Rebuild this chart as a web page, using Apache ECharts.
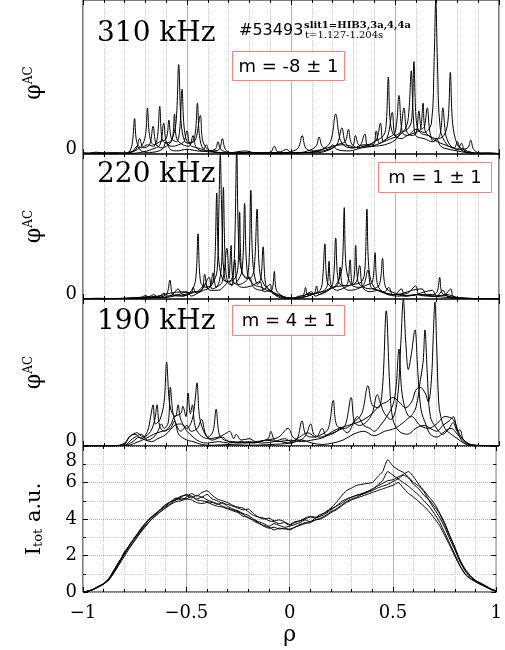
<!DOCTYPE html>
<html>
<head>
<meta charset="utf-8">
<script src="https://cdn.jsdelivr.net/npm/echarts@6/dist/echarts.min.js"></script>
<style>html,body{margin:0;padding:0;background:#fff;}#c{width:505px;height:650px;}</style>
</head>
<body>
<div id="c"></div>
<script>
// ---------------- DATA ----------------
const xTicks = [-1, -0.5, 0, 0.5, 1];
const xTickLabels = ['\u22121', '\u22120.5', '0', '0.5', '1'];
const yTicks4 = [0, 2, 4, 6, 8];
const panelFreqs = ['310 kHz', '220 kHz', '190 kHz'];
const panelModes = ['m = -8 \u00b1 1', 'm = 1 \u00b1 1', 'm = 4 \u00b1 1'];

// Panel 1 (310 kHz), phi^AC, relative units 0..100
const P1_S1 = [[-1,0.3],[-0.95,0.8],[-0.9,0.2],[-0.85,0.6],[-0.8,0.4],[-0.775,2],[-0.762,8],[-0.752,23],[-0.742,8],[-0.72,4],[-0.69,6],[-0.66,5],[-0.643,10],[-0.631,31],[-0.62,10],[-0.6,7],[-0.575,9],[-0.553,20],[-0.54,58],[-0.528,20],[-0.51,8],[-0.485,7],[-0.462,12],[-0.45,33],[-0.44,12],[-0.42,3],[-0.38,2],[-0.345,3],[-0.33,10],[-0.315,3],[-0.28,0.5],[-0.2,0.8],[-0.1,0.5],[0,0.8],[0.08,1],[0.15,3],[0.19,8],[0.215,26],[0.235,10],[0.26,5],[0.3,4],[0.35,6],[0.395,6],[0.41,15],[0.425,7],[0.46,10],[0.5,14],[0.519,38],[0.535,14],[0.56,12],[0.6,16],[0.64,14],[0.675,20],[0.688,60],[0.696,100],[0.704,60],[0.718,16],[0.75,6],[0.785,4],[0.8,8],[0.815,3],[0.85,1],[0.9,0.3],[0.95,0.5],[1,0.2]];
const P1_S2 = [[-1,0.6],[-0.93,0.3],[-0.87,0.8],[-0.8,0.3],[-0.76,1.5],[-0.72,5],[-0.7,12],[-0.69,30],[-0.68,12],[-0.66,6],[-0.63,8],[-0.6,10],[-0.587,22],[-0.575,10],[-0.55,8],[-0.535,16],[-0.524,42],[-0.512,15],[-0.49,7],[-0.46,9],[-0.436,25],[-0.425,9],[-0.4,3],[-0.35,1],[-0.3,0.5],[-0.2,1.2],[-0.15,0.5],[-0.1,1],[-0.05,0.5],[0,1.5],[0.035,4],[0.054,12],[0.07,4],[0.1,2],[0.15,3],[0.2,5],[0.25,6],[0.295,5],[0.31,12],[0.325,6],[0.36,5],[0.4,8],[0.445,12],[0.458,20],[0.468,50],[0.478,20],[0.5,12],[0.53,14],[0.56,16],[0.58,22],[0.591,60],[0.602,22],[0.62,14],[0.66,12],[0.7,10],[0.735,12],[0.755,22],[0.766,53],[0.777,20],[0.8,6],[0.83,3],[0.87,1],[0.92,0.3],[1,0.3]];
const P1_S3 = [[-1,0.2],[-0.9,0.5],[-0.82,0.3],[-0.78,1],[-0.745,3],[-0.728,10],[-0.71,4],[-0.68,6],[-0.663,18],[-0.648,6],[-0.62,4],[-0.59,6],[-0.57,10],[-0.56,26],[-0.55,10],[-0.52,6],[-0.49,5],[-0.471,12],[-0.455,4],[-0.42,2],[-0.365,3],[-0.351,8],[-0.338,3],[-0.3,1],[-0.25,0.4],[-0.18,1],[-0.1,0.3],[-0.03,0.8],[0.02,0.5],[0.08,2],[0.12,5],[0.135,11],[0.15,5],[0.18,3],[0.22,6],[0.26,8],[0.276,16],[0.29,7],[0.32,4],[0.37,6],[0.41,9],[0.43,20],[0.445,8],[0.48,10],[0.52,12],[0.555,18],[0.568,30],[0.578,54],[0.588,25],[0.6,12],[0.64,10],[0.68,8],[0.715,12],[0.73,30],[0.745,12],[0.77,5],[0.81,3],[0.85,4],[0.864,9],[0.878,3],[0.91,0.5],[0.95,0.3],[1,0.2]];
const P1_S4 = [[-1,1],[-0.97,0.3],[-0.94,1.2],[-0.88,0.5],[-0.83,0.8],[-0.78,0.4],[-0.72,1],[-0.67,3],[-0.63,6],[-0.612,20],[-0.598,7],[-0.57,5],[-0.54,6],[-0.515,8],[-0.5,15],[-0.485,6],[-0.45,4],[-0.42,3],[-0.407,6],[-0.39,2],[-0.3,0.8],[-0.22,2],[-0.17,0.6],[-0.1,1],[-0.08,5],[-0.065,1.5],[-0.02,0.6],[0.05,1],[0.12,0.8],[0.17,2],[0.22,6],[0.245,17],[0.26,8],[0.29,4],[0.33,5],[0.355,13],[0.37,5],[0.41,6],[0.46,10],[0.487,27],[0.5,12],[0.53,10],[0.56,12],[0.6,14],[0.622,16],[0.635,33],[0.645,15],[0.68,10],[0.72,7],[0.76,5],[0.8,3],[0.82,7],[0.835,2],[0.88,0.5],[0.94,0.8],[1,0.3]];
const P1_S5 = [[-1,0.2],[-0.9,0.3],[-0.8,0.6],[-0.76,2],[-0.74,5],[-0.72,2],[-0.68,1],[-0.62,3],[-0.6,8],[-0.58,3],[-0.55,2],[-0.5,3],[-0.45,2],[-0.4,1.5],[-0.3,0.5],[-0.22,1],[-0.12,0.5],[-0.05,1.5],[-0.02,3],[0,1],[0.05,0.8],[0.12,1.5],[0.18,3],[0.2,6],[0.22,3],[0.28,2],[0.34,4],[0.4,5],[0.45,6],[0.5,9],[0.525,14],[0.543,30],[0.558,14],[0.585,12],[0.603,14],[0.615,28],[0.628,16],[0.642,18],[0.655,30],[0.668,14],[0.685,8],[0.7,10],[0.72,5],[0.76,3],[0.8,2],[0.84,1],[0.9,0.4],[1,0.2]];

// Panel 2 (220 kHz)
const P2_S1 = [[-1,0.2],[-0.85,0.3],[-0.75,0.5],[-0.66,1],[-0.6,3],[-0.582,13],[-0.568,3],[-0.53,2],[-0.49,4],[-0.46,12],[-0.447,45],[-0.435,12],[-0.41,8],[-0.38,10],[-0.355,20],[-0.347,60],[-0.34,100],[-0.333,60],[-0.32,15],[-0.29,10],[-0.26,12],[-0.235,20],[-0.223,66],[-0.21,18],[-0.18,10],[-0.14,8],[-0.1,5],[-0.088,8],[-0.08,19],[-0.07,6],[-0.04,2],[0,0.5],[0.05,1],[0.1,3],[0.14,6],[0.152,14],[0.163,38],[0.174,12],[0.2,8],[0.232,14],[0.247,24],[0.256,63],[0.265,22],[0.29,10],[0.33,8],[0.37,10],[0.392,12],[0.404,32],[0.416,10],[0.45,4],[0.52,2],[0.6,3],[0.68,3],[0.703,5],[0.715,15],[0.727,4],[0.77,1.5],[0.85,0.5],[0.95,0.2],[1,0.1]];
const P2_S2 = [[-1,0.3],[-0.9,0.2],[-0.8,0.4],[-0.7,0.8],[-0.62,1],[-0.57,3],[-0.543,7],[-0.52,3],[-0.47,5],[-0.43,6],[-0.415,17],[-0.4,7],[-0.375,12],[-0.365,30],[-0.357,73],[-0.349,30],[-0.33,14],[-0.3,12],[-0.28,16],[-0.27,40],[-0.261,104],[-0.252,40],[-0.235,18],[-0.2,14],[-0.178,20],[-0.163,62],[-0.15,18],[-0.12,8],[-0.08,4],[-0.04,1],[0,0.5],[0.04,2],[0.06,3],[0.07,8],[0.08,3],[0.12,4],[0.17,6],[0.2,10],[0.215,42],[0.228,12],[0.26,9],[0.3,10],[0.34,12],[0.355,20],[0.365,62],[0.375,20],[0.4,8],[0.45,4],[0.5,3],[0.56,4],[0.6,9],[0.615,3],[0.66,2],[0.72,1.5],[0.8,0.5],[0.9,0.2],[1,0.1]];
const P2_S3 = [[-1,0.1],[-0.9,0.3],[-0.78,0.6],[-0.7,1.5],[-0.64,2],[-0.58,4],[-0.52,5],[-0.48,4],[-0.47,8],[-0.455,4],[-0.42,6],[-0.39,8],[-0.375,18],[-0.36,8],[-0.345,12],[-0.333,26],[-0.325,77],[-0.316,26],[-0.3,12],[-0.27,14],[-0.255,22],[-0.247,60],[-0.238,20],[-0.215,14],[-0.202,25],[-0.193,75],[-0.183,24],[-0.16,10],[-0.145,14],[-0.134,36],[-0.122,10],[-0.1,6],[-0.06,3],[-0.02,1],[0.03,0.5],[0.08,2],[0.12,4],[0.16,6],[0.175,10],[0.183,26],[0.192,10],[0.22,6],[0.26,8],[0.3,12],[0.311,37],[0.322,12],[0.35,8],[0.39,7],[0.425,10],[0.44,28],[0.455,8],[0.5,4],[0.55,2],[0.62,3],[0.68,2],[0.74,3],[0.768,7],[0.78,2],[0.83,0.5],[0.9,0.3],[1,0.1]];
const P2_S4 = [[-1,0.2],[-0.92,0.5],[-0.84,0.2],[-0.76,0.6],[-0.7,0.5],[-0.66,3],[-0.64,1],[-0.58,1.5],[-0.54,3],[-0.5,5],[-0.48,2],[-0.44,5],[-0.42,8],[-0.394,15],[-0.38,7],[-0.36,8],[-0.33,12],[-0.308,35],[-0.298,14],[-0.288,37],[-0.278,12],[-0.25,10],[-0.22,12],[-0.2,15],[-0.18,8],[-0.14,6],[-0.1,10],[-0.09,4],[-0.05,2],[0,0.3],[0.05,1],[0.09,4],[0.11,3],[0.123,9],[0.135,3],[0.17,5],[0.2,8],[0.24,9],[0.27,10],[0.284,27],[0.296,10],[0.315,12],[0.33,23],[0.345,8],[0.38,5],[0.42,6],[0.46,4],[0.5,3],[0.53,7],[0.55,2],[0.6,3],[0.645,5],[0.68,6],[0.7,2],[0.75,3],[0.8,1],[0.88,0.3],[1,0.2]];
const P2_S5 = [[-1,0.1],[-0.95,0.3],[-0.88,0.1],[-0.8,0.3],[-0.72,1],[-0.7,2.5],[-0.68,1],[-0.63,2],[-0.61,4],[-0.59,2],[-0.55,3],[-0.52,2],[-0.48,4],[-0.45,5],[-0.41,10],[-0.39,6],[-0.35,6],[-0.32,9],[-0.3,12],[-0.285,9],[-0.27,27],[-0.258,10],[-0.23,8],[-0.19,9],[-0.15,12],[-0.13,5],[-0.1,6],[-0.07,2],[-0.03,0.5],[0.03,1],[0.07,3],[0.1,5],[0.115,2],[0.15,4],[0.19,7],[0.225,10],[0.236,22],[0.248,9],[0.28,6],[0.32,7],[0.35,10],[0.37,20],[0.385,8],[0.42,6],[0.45,5],[0.47,8],[0.49,3],[0.54,4],[0.58,6],[0.63,7],[0.65,3],[0.7,2],[0.73,6],[0.75,2],[0.8,0.5],[0.9,0.2],[1,0.1]];

// Panel 3 (190 kHz)
const P3_S1 = [[-1,0.1],[-0.85,0.2],[-0.8,1],[-0.78,6],[-0.75,8],[-0.72,5],[-0.69,10],[-0.675,20],[-0.663,28],[-0.652,15],[-0.63,18],[-0.61,30],[-0.598,57],[-0.585,30],[-0.57,22],[-0.555,20],[-0.543,28],[-0.53,18],[-0.5,12],[-0.475,18],[-0.462,30],[-0.452,43],[-0.44,20],[-0.42,10],[-0.4,6],[-0.375,10],[-0.36,25],[-0.345,8],[-0.32,4],[-0.28,3],[-0.22,2],[-0.15,3],[-0.11,5],[-0.097,10],[-0.08,4],[-0.05,3],[0,2],[0.03,5],[0.053,17],[0.07,8],[0.1,6],[0.15,8],[0.18,12],[0.203,31],[0.22,14],[0.26,12],[0.3,16],[0.34,22],[0.37,41],[0.39,28],[0.42,26],[0.44,40],[0.458,92],[0.475,40],[0.49,18],[0.52,10],[0.56,8],[0.6,12],[0.64,14],[0.67,12],[0.7,10],[0.73,14],[0.76,17],[0.78,20],[0.8,10],[0.82,4],[0.85,1],[0.9,0.3],[1,0.1]];
const P3_S2 = [[-1,0.2],[-0.85,0.1],[-0.8,2],[-0.77,7],[-0.74,9],[-0.71,6],[-0.675,10],[-0.655,18],[-0.644,28],[-0.632,14],[-0.61,10],[-0.58,14],[-0.56,20],[-0.53,22],[-0.52,27],[-0.505,20],[-0.495,36],[-0.484,22],[-0.474,28],[-0.462,14],[-0.44,8],[-0.4,5],[-0.35,6],[-0.32,8],[-0.295,10],[-0.275,5],[-0.263,8],[-0.24,4],[-0.2,5],[-0.17,3],[-0.12,4],[-0.06,6],[-0.014,12],[0.01,6],[0.04,4],[0.07,7],[0.095,15],[0.11,8],[0.14,6],[0.18,8],[0.22,10],[0.26,14],[0.289,33],[0.305,16],[0.33,14],[0.36,16],[0.39,22],[0.415,35],[0.43,29],[0.45,22],[0.48,18],[0.51,30],[0.528,70],[0.54,100],[0.552,70],[0.564,52],[0.578,62],[0.596,79],[0.61,50],[0.625,25],[0.65,14],[0.67,8],[0.7,6],[0.74,10],[0.77,12],[0.8,8],[0.83,4],[0.86,1],[0.9,0.2],[1,0.1]];
const P3_S3 = [[-1,0.1],[-0.9,0.2],[-0.8,0.5],[-0.77,4],[-0.75,6],[-0.72,8],[-0.69,4],[-0.66,6],[-0.64,10],[-0.623,15],[-0.61,12],[-0.59,16],[-0.58,40],[-0.568,23],[-0.55,14],[-0.53,10],[-0.5,14],[-0.48,10],[-0.45,12],[-0.43,18],[-0.41,8],[-0.38,4],[-0.33,6],[-0.3,3],[-0.25,2],[-0.2,3],[-0.14,2],[-0.08,3],[-0.03,5],[0,3],[0.04,6],[0.08,9],[0.12,6],[0.15,12],[0.17,7],[0.21,9],[0.24,12],[0.27,9],[0.32,20],[0.35,14],[0.38,12],[0.4,10],[0.43,14],[0.46,20],[0.49,28],[0.505,40],[0.519,66],[0.532,38],[0.55,25],[0.57,20],[0.6,26],[0.622,45],[0.635,57],[0.644,79],[0.655,50],[0.67,20],[0.7,12],[0.73,8],[0.76,12],[0.78,16],[0.8,10],[0.812,11],[0.83,4],[0.86,1],[1,0.1]];
const P3_S4 = [[-1,0.1],[-0.9,0.1],[-0.8,0.3],[-0.76,3],[-0.73,6],[-0.7,4],[-0.67,3],[-0.64,5],[-0.6,8],[-0.56,14],[-0.53,15],[-0.5,10],[-0.47,6],[-0.44,3],[-0.4,2],[-0.35,3],[-0.3,2],[-0.24,3],[-0.18,2],[-0.12,4],[-0.06,3],[0,4],[0.05,3],[0.1,4],[0.16,6],[0.2,10],[0.25,13],[0.3,15],[0.35,18],[0.39,22],[0.43,28],[0.46,30],[0.49,33],[0.52,30],[0.55,26],[0.58,30],[0.6,38],[0.62,40],[0.645,36],[0.66,30],[0.675,45],[0.684,75],[0.692,98],[0.7,70],[0.71,30],[0.72,20],[0.74,12],[0.77,8],[0.8,5],[0.83,2],[0.86,0.5],[1,0.1]];
const P3_S5 = [[-1,0.1],[-0.85,0.2],[-0.78,0.5],[-0.75,2],[-0.7,5],[-0.66,8],[-0.62,10],[-0.58,12],[-0.56,17],[-0.54,8],[-0.5,4],[-0.47,3],[-0.43,1],[-0.38,0.5],[-0.3,1],[-0.2,0.5],[-0.1,1],[0,2],[0.05,4],[0.1,2],[0.15,1],[0.2,2],[0.25,4],[0.3,8],[0.35,10],[0.4,7],[0.45,10],[0.5,12],[0.54,16],[0.58,20],[0.62,14],[0.66,12],[0.7,15],[0.74,20],[0.78,18],[0.81,8],[0.84,3],[0.88,0.5],[1,0.1]];

// Panel 4: I_tot (a.u.) on a common rho grid
const rho4 = [-1,-0.975,-0.95,-0.925,-0.9,-0.875,-0.85,-0.825,-0.8,-0.775,-0.75,-0.725,-0.7,-0.675,-0.65,-0.625,-0.6,-0.575,-0.55,-0.525,-0.5,-0.475,-0.45,-0.425,-0.4,-0.375,-0.35,-0.325,-0.3,-0.275,-0.25,-0.225,-0.2,-0.175,-0.15,-0.125,-0.1,-0.075,-0.05,-0.025,0,0.025,0.05,0.075,0.1,0.125,0.15,0.175,0.2,0.225,0.25,0.275,0.3,0.325,0.35,0.375,0.4,0.425,0.45,0.475,0.5,0.525,0.55,0.575,0.6,0.625,0.65,0.675,0.7,0.725,0.75,0.775,0.8,0.825,0.85,0.875,0.9,0.925,0.95,0.975,1];
const I_A = [0.00,0.05,0.15,0.32,0.45,0.72,1.20,1.62,2.05,2.55,2.95,3.35,3.70,4.00,4.25,4.50,4.75,4.95,5.10,5.25,5.30,5.15,5.30,5.20,5.35,5.10,5.00,4.85,4.80,4.70,4.60,4.50,4.55,4.30,4.10,4.00,4.05,3.90,3.95,3.85,3.70,3.85,3.90,4.00,4.10,4.05,4.20,4.40,4.60,4.90,5.25,5.55,5.70,5.85,5.90,5.95,6.00,6.30,6.60,7.25,6.90,6.70,6.55,6.30,6.00,5.80,5.50,5.00,4.55,4.10,3.55,2.90,2.30,1.65,1.15,0.82,0.60,0.45,0.30,0.15,0.05];
const I_B = [0.00,0.04,0.14,0.28,0.44,0.68,1.10,1.55,2.15,2.45,2.85,3.25,3.60,3.90,4.20,4.40,4.65,4.85,5.05,5.15,5.10,5.25,5.05,5.00,4.95,4.90,4.85,4.70,4.60,4.50,4.40,4.25,4.05,3.95,3.80,3.60,3.50,3.55,3.45,3.50,3.40,3.55,3.70,3.80,3.85,3.95,4.05,4.20,4.40,4.55,4.75,4.95,5.10,5.20,5.35,5.50,5.60,5.85,6.10,6.60,6.40,6.20,6.00,5.80,5.55,5.30,5.00,4.70,4.30,3.85,3.25,2.65,2.05,1.45,1.00,0.75,0.58,0.42,0.28,0.14,0.04];
const I_C = [0.00,0.06,0.16,0.30,0.46,0.75,1.20,1.70,2.05,2.60,2.95,3.40,3.75,4.05,4.25,4.55,4.80,4.95,5.05,5.20,5.35,5.25,5.10,5.20,5.05,4.95,4.80,4.90,4.70,4.55,4.45,4.30,4.20,4.00,3.85,3.75,3.60,3.75,3.65,3.55,3.60,3.70,3.80,3.95,3.85,4.05,4.15,4.30,4.50,4.70,4.85,5.05,5.20,5.30,5.40,5.50,5.65,5.80,5.95,6.10,6.15,6.30,6.45,6.60,6.30,5.90,5.55,5.20,4.85,4.35,3.80,3.10,2.45,1.70,1.20,0.85,0.62,0.48,0.32,0.16,0.06];
const I_D = [0.00,0.05,0.13,0.27,0.43,0.65,1.05,1.50,1.95,2.40,2.80,3.20,3.55,3.90,4.15,4.40,4.60,4.80,4.95,5.00,5.10,5.05,4.90,4.85,4.90,4.80,4.70,4.65,4.55,4.45,4.35,4.15,4.10,3.90,3.75,3.65,3.55,3.40,3.50,3.45,3.45,3.55,3.65,3.75,3.80,3.95,4.00,4.15,4.35,4.50,4.70,4.90,5.05,5.15,5.25,5.35,5.45,5.55,5.65,5.75,5.85,6.00,5.70,5.40,5.20,4.95,4.70,4.40,4.05,3.65,3.10,2.55,1.95,1.40,0.95,0.72,0.55,0.40,0.27,0.13,0.04];
const I_E = [0.00,0.05,0.16,0.31,0.46,0.70,1.15,1.60,2.20,2.55,3.00,3.30,3.70,4.05,4.30,4.50,4.70,4.95,5.15,5.05,5.20,5.40,5.25,5.45,5.55,5.30,5.10,5.00,4.90,4.75,4.65,4.60,4.40,4.20,4.10,4.05,3.90,3.85,3.75,3.80,3.65,3.80,3.90,4.05,4.15,4.10,4.25,4.35,4.55,4.70,4.95,5.10,5.20,5.30,5.35,5.45,5.55,5.70,5.80,5.90,6.05,6.20,6.40,6.25,5.90,5.65,5.30,5.05,4.70,4.30,3.70,3.05,2.40,1.75,1.25,0.90,0.64,0.48,0.33,0.17,0.06];

// ---------------- CHART ----------------
const SERIF = '"DejaVu Serif", serif';
const SANS = '"DejaVu Sans", sans-serif';
const chart = echarts.init(document.getElementById('c'), null, {renderer: 'canvas'});

const gridDefs = [
  {top: -1, height: 155},
  {top: 154, height: 145},
  {top: 299, height: 147},
  {top: 446, height: 146}
];
const grid = gridDefs.map(g => ({left: 83, width: 416, top: g.top, height: g.height,
  show: true, borderColor: '#000', borderWidth: 1, backgroundColor: 'transparent'}));

const xAxis = [];
gridDefs.forEach((g, i) => {
  const last = i === 3;
  xAxis.push({
    type: 'value', gridIndex: i, min: -1, max: 1, interval: 0.5, position: 'bottom',
    axisLine: {show: false, onZero: false},
    axisTick: {show: true, inside: true, length: 5, lineStyle: {color: '#000', width: 1}},
    minorTick: {show: true, splitNumber: 5, length: 3, lineStyle: {color: '#000', width: 1}},
    splitLine: {show: true, lineStyle: {color: '#b4b4b4', width: 1}},
    minorSplitLine: {show: true, lineStyle: {color: '#cfcfcf', width: 1, type: 'dotted'}},
    axisLabel: last ? {show: true, margin: 12, color: '#000', fontFamily: SERIF, fontSize: 18,
      formatter: v => { const k = xTicks.indexOf(v); return k >= 0 ? xTickLabels[k] : ''; }} : {show: false},
    name: last ? 'ρ' : '', nameLocation: 'middle', nameGap: 32,
    nameTextStyle: {color: '#000', fontFamily: SERIF, fontSize: 22}
  });
  xAxis.push({
    type: 'value', gridIndex: i, min: -1, max: 1, interval: 0.5, position: 'top',
    axisLine: {show: false, onZero: false},
    axisTick: {show: true, inside: true, length: 5, lineStyle: {color: '#000', width: 1}},
    minorTick: {show: true, splitNumber: 5, length: 3, lineStyle: {color: '#000', width: 1}},
    splitLine: {show: false}, axisLabel: {show: false}
  });
});

const phiName = '{a|φ}{b|AC}';
const phiRich = {a: {fontFamily: SERIF, fontSize: 22, color: '#000'}, b: {fontFamily: SERIF, fontSize: 12, color: '#000', verticalAlign: 'top'}};
const yAxis = [];
for (let i = 0; i < 3; i++) {
  yAxis.push({
    type: 'value', gridIndex: i, min: 0, max: 100, interval: 100, position: 'left',
    axisLine: {show: false, onZero: false}, axisTick: {show: false}, splitLine: {show: false},
    axisLabel: {show: true, margin: 6, color: '#000', fontFamily: SERIF, fontSize: 18,
      formatter: v => v === 0 ? '{z|0}' : '',
      rich: {z: {fontFamily: SERIF, fontSize: 18, color: '#000', padding: [0, 0, 10, 0]}}},
    name: phiName, nameLocation: 'middle', nameGap: 38, nameRotate: 90,
    nameTextStyle: {rich: phiRich, padding: i === 0 ? [0, 12, 0, 0] : 0}
  });
}
yAxis.push({
  type: 'value', gridIndex: 3, min: 0, max: 8, interval: 2, position: 'left',
  axisLine: {show: false, onZero: false},
  axisTick: {show: true, inside: true, length: 5, lineStyle: {color: '#000'}},
  minorTick: {show: true, splitNumber: 2, length: 3, lineStyle: {color: '#000'}},
  splitLine: {show: true, lineStyle: {color: '#a8a8a8', type: 'dotted'}},
  minorSplitLine: {show: true, lineStyle: {color: '#d2d2d2', type: 'dotted'}},
  axisLabel: {show: true, margin: 6, color: '#000', fontFamily: SERIF, fontSize: 18,
    formatter: v => { if (yTicks4.indexOf(v) < 0) return ''; return v === 8 ? '{t|' + v + '}' : String(v); },
    rich: {t: {fontFamily: SERIF, fontSize: 18, color: '#000', padding: [30, 0, 0, 0]}}},
  name: '{a|I}{s|tot}{a| a.u.}', nameLocation: 'middle', nameGap: 38, nameRotate: 90,
  nameTextStyle: {rich: {a: {fontFamily: SERIF, fontSize: 21, color: '#000'}, s: {fontFamily: SERIF, fontSize: 13, color: '#000', verticalAlign: 'bottom'}}}
});
yAxis.push({
  type: 'value', gridIndex: 3, min: 0, max: 8, interval: 2, position: 'right',
  axisLine: {show: false, onZero: false},
  axisTick: {show: true, inside: true, length: 5, lineStyle: {color: '#000'}},
  minorTick: {show: true, splitNumber: 2, length: 3, lineStyle: {color: '#000'}},
  splitLine: {show: false}, axisLabel: {show: false}
});

function lineSeries(data, panel) {
  return {type: 'line', xAxisIndex: panel * 2, yAxisIndex: panel, data: data,
    showSymbol: false, symbol: 'none', smooth: 0.35, clip: true, silent: true,
    lineStyle: {color: '#000', width: 1}, z: 3};
}
const series = [];
[P1_S1, P1_S2, P1_S3, P1_S4, P1_S5].forEach(d => series.push(lineSeries(d, 0)));
[P2_S1, P2_S2, P2_S3, P2_S4, P2_S5].forEach(d => series.push(lineSeries(d, 1)));
[P3_S1, P3_S2, P3_S3, P3_S4, P3_S5].forEach(d => series.push(lineSeries(d, 2)));
[I_A, I_B, I_C, I_D, I_E].forEach(arr => {
  const s = lineSeries(rho4.map((x, k) => [x, arr[k]]), 3);
  s.smooth = 0.2;
  series.push(s);
});

const freqY = [34, 175, 322];
const boxes = [
  {x: 232.5, y: 51.5, w: 112, h: 29},
  {x: 378.5, y: 162.5, w: 113, h: 30},
  {x: 232.5, y: 305.5, w: 112, h: 30}
];
const graphic = [];
panelFreqs.forEach((t, i) => {
  graphic.push({type: 'text', x: 97, y: freqY[i], z: 100,
    style: {text: t, font: '28px ' + SERIF, fill: '#000', textAlign: 'left', textVerticalAlign: 'middle'}});
});
boxes.forEach((b, i) => {
  graphic.push({type: 'rect', z: 100, shape: {x: b.x, y: b.y, width: b.w, height: b.h},
    style: {fill: '#fff', stroke: '#ff8080', lineWidth: 1}});
  graphic.push({type: 'text', z: 101, x: b.x + b.w / 2, y: b.y + b.h / 2 + 1,
    style: {text: panelModes[i], font: '18px ' + SANS, fill: '#000', textAlign: 'center', textVerticalAlign: 'middle'}});
});
graphic.push({type: 'text', z: 100, x: 239, y: 31,
  style: {text: '#53493', font: '16px ' + SANS, fill: '#000', textAlign: 'left', textVerticalAlign: 'middle'}});
graphic.push({type: 'text', z: 100, x: 304, y: 25,
  style: {text: 'slit1=HIB3,3a,4,4a', font: 'bold 10px ' + SERIF, fill: '#000', textAlign: 'left', textVerticalAlign: 'middle'}});
graphic.push({type: 'text', z: 100, x: 305, y: 35,
  style: {text: 't=1.127-1.204s', font: '10px ' + SERIF, fill: '#000', textAlign: 'left', textVerticalAlign: 'middle'}});

chart.setOption({
  animation: false,
  backgroundColor: '#fff',
  grid, xAxis, yAxis, series, graphic
});
</script>
</body>
</html>
